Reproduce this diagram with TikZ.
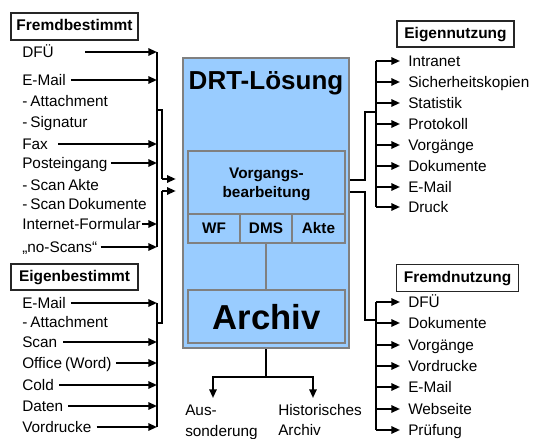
\documentclass[tikz,border=0pt]{standalone}
\usepackage{fontspec}
\setmainfont{Liberation Sans}[WordSpace=0.7]
\usetikzlibrary{arrows.meta,calc}
\definecolor{drtblue}{HTML}{99CCFF}
\definecolor{drtgray}{HTML}{808080}
\begin{document}
\begin{tikzpicture}[x=0.75pt,y=-0.75pt,
  item/.style={anchor=west, inner sep=0pt, text height=8.2pt, text depth=0pt, font=\fontsize{11.5pt}{13pt}\selectfont},
  hdr/.style={draw=black!85, line width=0.8pt, inner sep=0pt, text height=8.3pt, text depth=2.2pt, font=\bfseries\fontsize{11.6pt}{13pt}\selectfont},
  arr/.style={line width=1.4pt, -{Triangle[length=6.5pt,width=5.5pt]}},
  ln/.style={line width=1.4pt},
  gbox/.style={draw=drtgray, fill=drtblue, line width=1.9pt, inner sep=0pt},
  ibox/.style={draw=drtgray, fill=drtblue, line width=1.5pt, inner sep=0pt},
  btxt/.style={font=\bfseries\fontsize{11.5pt}{14.25pt}\selectfont, align=center, inner sep=0pt}]
\useasboundingbox (0,0) rectangle (533,439);

% headers
\node[hdr, minimum width=95.25pt, minimum height=20.25pt] (fb) at (74.5,26.5) {Fremdbestimmt};
\node[hdr, minimum width=95.25pt, minimum height=19.5pt] (eb) at (74.5,277) {Eigenbestimmt};
\node[hdr, minimum width=87.75pt, minimum height=19.5pt] (en) at (455.5,34) {Eigennutzung};
\node[hdr, minimum width=91.5pt, minimum height=20.25pt] (fn) at (457.5,278) {Fremdnutzung};

% central block
\node[gbox, minimum width=124.5pt, minimum height=217.5pt] (drt) at (266,203) {};
\node[font=\bfseries\fontsize{19.5pt}{22pt}\selectfont, inner sep=0pt] (drtt) at (266,83) {DRT-Lösung};
\node[ibox, minimum width=117.75pt, minimum height=47.25pt] (vb) at (266.5,182.5) {};
\node[btxt] (vbt) at (266.5,184) {Vorgangs-\\bearbeitung};
\node[ibox, minimum width=39pt, minimum height=21.75pt] (wf) at (214,228.5) {};
\node[ibox, minimum width=39pt, minimum height=21.75pt] (dms) at (266,228.5) {};
\node[ibox, minimum width=39.75pt, minimum height=21.75pt] (akte) at (318.5,228.5) {};
\node[btxt] (wft) at (wf) {WF};
\node[btxt] (dmst) at (dms) {DMS};
\node[btxt] (aktet) at (akte) {Akte};
\node[ibox, minimum width=117.75pt, minimum height=39.75pt] (arch) at (266.5,316.5) {};
\node[font=\bfseries\fontsize{26pt}{30pt}\selectfont, inner sep=0pt] (archt) at (266.5,317) {Archiv};
\draw[drtgray, line width=1.5pt] (dms.south) -- (dms.south |- arch.north);

% left upper list
\coordinate (LB) at (157,0);
\node[item] (a1) at (22,52) {DFÜ};
\node[item] (a2) at (22,80) {E-Mail};
\node[item] (a3) at (22,101) {- Attachment};
\node[item] (a4) at (22,122) {- Signatur};
\node[item] (a5) at (22,144) {Fax};
\node[item] (a6) at (22,163) {Posteingang};
\node[item] (a7) at (22,185) {- Scan Akte};
\node[item] (a8) at (22,204) {- Scan Dokumente};
\node[item] (a9) at (22,224) {Internet-Formular};
\node[item] (a10) at (22,247) {„no-Scans“};
\draw[arr] ($(a1.east)+(31,0)$) -- (a1 -| LB);
\draw[arr] ($(a2.east)+(5,0)$) -- (a2 -| LB);
\draw[arr] ($(a5.east)+(10,0)$) -- (a5 -| LB);
\draw[arr] ($(a6.east)+(3,0)$) -- (a6 -| LB);
\draw[arr] ($(a9.east)+(1,0)$) -- (a9 -| LB);
\draw[arr] ($(a10.east)+(3,0)$) -- (a10 -| LB);
\draw[ln] (a1 -| LB) -- (a10 -| LB);
\coordinate (in1) at (162,179);
\draw[ln] (157,110) -- (162,110) -- (in1);
\draw[arr, shorten >=4.5pt] (in1) -- (in1 -| drt.west);

% left lower list
\node[item] (b1) at (22,303) {E-Mail};
\node[item] (b2) at (22,322) {- Attachment};
\node[item] (b3) at (22,342) {Scan};
\node[item] (b4) at (22,363) {Office (Word)};
\node[item] (b5) at (22,385) {Cold};
\node[item] (b6) at (22,406) {Daten};
\node[item] (b7) at (22,427) {Vordrucke};
\draw[arr] ($(b1.east)+(5,0)$) -- (b1 -| LB);
\draw[arr] ($(b3.east)+(6,0)$) -- (b3 -| LB);
\draw[arr] ($(b4.east)+(4,0)$) -- (b4 -| LB);
\draw[arr] ($(b5.east)+(5,0)$) -- (b5 -| LB);
\draw[arr] ($(b6.east)+(5,0)$) -- (b6 -| LB);
\draw[arr] ($(b7.east)+(5,0)$) -- (b7 -| LB);
\draw[ln] (b1 -| LB) -- (b7 -| LB);
\coordinate (in2) at (162,191);
\draw[ln] (157,323) -- (162,323) -- (in2);
\draw[arr, shorten >=4.5pt] (in2) -- (in2 -| drt.west);

% right upper list
\coordinate (RB) at (376,0);
\node[item] (e1) at (408,61) {Intranet};
\node[item] (e2) at (408,82) {Sicherheitskopien};
\node[item] (e3) at (408,103) {Statistik};
\node[item] (e4) at (408,124) {Protokoll};
\node[item] (e5) at (408,145) {Vorgänge};
\node[item] (e6) at (408,166) {Dokumente};
\node[item] (e7) at (408,187) {E-Mail};
\node[item] (e8) at (408,207) {Druck};
\foreach \n in {e1,e2,e3,e4,e5,e6,e7,e8}
  \draw[arr] (\n -| RB) -- ($(\n.west)+(-8,0)$);
\draw[ln] (e1 -| RB) -- (e8 -| RB);
\coordinate (o1) at (365,180);
\draw[ln] (o1 -| drt.east) -- (o1) |- (376,112);

% right lower list
\node[item] (f1) at (408,302) {DFÜ};
\node[item] (f2) at (408,323) {Dokumente};
\node[item] (f3) at (408,345) {Vorgänge};
\node[item] (f4) at (408,366) {Vordrucke};
\node[item] (f5) at (408,387) {E-Mail};
\node[item] (f6) at (408,409) {Webseite};
\node[item] (f7) at (408,430) {Prüfung};
\foreach \n in {f1,f2,f3,f4,f5,f6,f7}
  \draw[arr] (\n -| RB) -- ($(\n.west)+(-8,0)$);
\draw[ln] (f1 -| RB) -- (f7 -| RB);
\coordinate (o2) at (365,192);
\draw[ln] (o2 -| drt.east) -- (o2) |- (376,320);

% bottom
\coordinate (b0) at (266,377);
\node[item] (aus1) at (185,410) {Aus-};
\node[item] (aus2) at (185,431) {sonderung};
\node[item] (his1) at (278,410) {Historisches};
\node[item] (his2) at (278,430) {Archiv};
\draw[ln] (drt.south) -- (b0);
\draw[arr] (b0) -| (213,398);
\draw[arr] (b0) -| (313,398);
\end{tikzpicture}
\end{document}
